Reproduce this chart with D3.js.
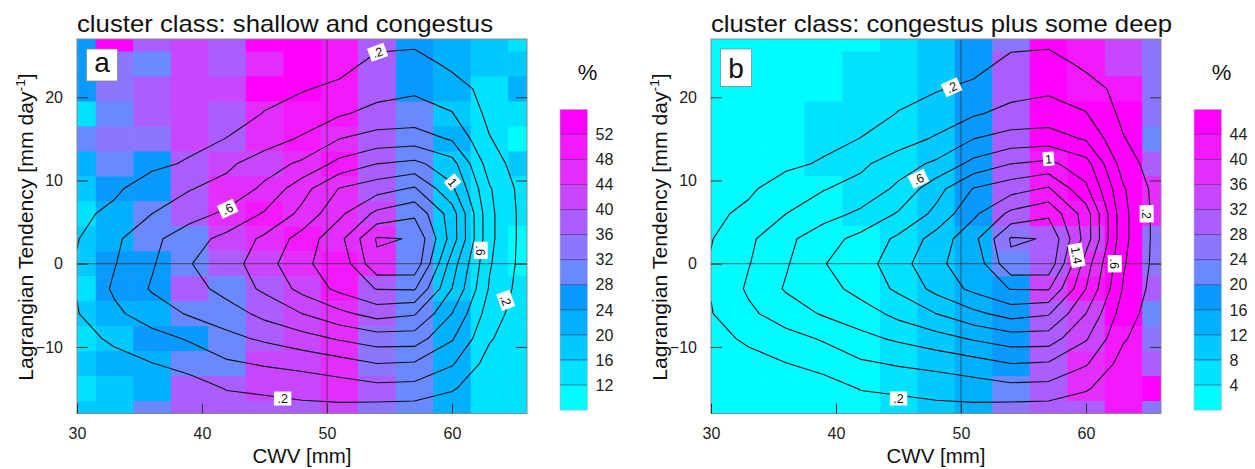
<!DOCTYPE html>
<html><head><meta charset="utf-8">
<script src="https://cdn.jsdelivr.net/npm/d3@7"></script>
<style>
body{margin:0;background:#fff}
svg{display:block}
text{font-family:"Liberation Sans",Arial,Helvetica,sans-serif}
</style></head>
<body><svg id="c" width="1255" height="469"></svg>
<script>
// ---------- data ----------
const cwv  = [30,33,36,39,42,45,48,51,54,57,60,63,66];
const tend = [27,24,21,18,15,12,9,6,3,0,-3,-6,-9,-12,-15,-18];

// joint PDF (contoured, same in both panels), rows follow tend, columns follow cwv
const density = [
 [0.02,0.03,0.04,0.05,0.07,0.09,0.11,0.13,0.155,0.13,0.08,0.04,0.02],
 [0.03,0.04,0.05,0.07,0.09,0.12,0.13,0.15,0.24,0.30,0.15,0.07,0.02],
 [0.04,0.06,0.08,0.10,0.13,0.16,0.19,0.233,0.33,0.37,0.30,0.12,0.03],
 [0.05,0.08,0.10,0.12,0.14,0.206,0.265,0.38,0.46,0.48,0.41,0.15,0.04],
 [0.07,0.10,0.13,0.15,0.204,0.30,0.427,0.60,0.68,0.70,0.58,0.21,0.05],
 [0.09,0.13,0.16,0.22,0.36,0.514,0.635,0.86,1.00,1.05,0.88,0.30,0.07],
 [0.12,0.17,0.293,0.39,0.47,0.64,0.926,1.21,1.32,1.425,1.04,0.42,0.09],
 [0.16,0.24,0.40,0.52,0.64,0.82,1.05,1.36,1.65,1.76,1.30,0.45,0.10],
 [0.19,0.36,0.55,0.72,0.86,1.04,1.28,1.54,2.02,1.99,1.31,0.45,0.10],
 [0.215,0.39,0.58,0.79,0.92,1.10,1.38,1.45,1.96,1.95,1.10,0.42,0.10],
 [0.21,0.43,0.62,0.71,0.88,1.035,1.26,1.45,1.61,1.62,1.00,0.38,0.08],
 [0.19,0.36,0.50,0.62,0.70,0.86,1.00,1.15,1.28,1.22,0.80,0.30,0.06],
 [0.12,0.24,0.33,0.42,0.55,0.63,0.72,0.82,0.90,0.90,0.62,0.22,0.04],
 [0.07,0.12,0.195,0.27,0.37,0.42,0.46,0.52,0.60,0.58,0.42,0.12,0.03],
 [0.04,0.07,0.10,0.11,0.21,0.24,0.27,0.30,0.34,0.33,0.22,0.06,0.02],
 [0.02,0.04,0.05,0.05,0.08,0.09,0.12,0.12,0.08,0.07,0.05,0.03,0.01]
];

// panel a: % shallow and congestus
const fracA = [
 [27,54,38,42,38,54,54,50,38,26,22,18,14],
 [26,34,30,42,38,46,54,50,38,26,22,18,18],
 [26,34,38,42,42,54,54,50,38,26,22,14,22],
 [14,30,38,42,38,46,50,50,38,30,18,14,14],
 [30,34,34,42,38,46,50,46,38,30,22,14,10],
 [22,30,26,38,42,42,46,50,38,30,18,14,18],
 [18,26,26,38,46,46,46,46,38,30,18,14,14],
 [14,22,30,38,46,50,46,46,42,30,18,14,14],
 [18,22,30,30,42,46,50,46,46,30,18,14,10],
 [18,26,26,30,38,42,46,50,46,30,18,14,10],
 [13,26,26,38,30,38,42,50,38,30,18,14,14],
 [18,22,22,30,30,38,42,46,38,30,22,14,14],
 [14,18,26,26,30,38,42,46,34,30,22,14,14],
 [18,22,22,30,30,42,42,46,34,30,22,14,14],
 [14,18,22,38,38,42,42,46,38,30,22,14,14],
 [18,18,30,38,38,38,38,42,34,30,22,14,14]
];

// panel b: % congestus plus some deep
const fracB = [
 [2,2,2,2,2,6,10,18,26,46,42,34,26],
 [2,2,2,2,6,6,10,18,30,46,42,34,26],
 [2,2,2,2,6,6,10,18,30,46,42,42,26],
 [2,2,2,6,6,6,10,18,30,46,46,46,26],
 [2,2,2,6,6,6,10,18,30,46,46,46,22],
 [2,2,2,6,6,6,10,18,30,42,46,46,30],
 [2,2,2,2,6,6,10,18,30,42,46,46,38],
 [2,2,2,2,6,6,10,18,30,42,42,46,38],
 [2,2,2,2,2,6,10,14,26,30,34,46,26],
 [2,2,2,2,2,6,10,14,22,30,38,46,26],
 [2,2,2,2,2,6,10,14,18,34,42,46,30],
 [2,2,2,2,2,6,10,14,18,30,34,46,22],
 [2,2,2,2,2,6,10,14,18,30,34,42,26],
 [2,2,2,2,2,6,10,14,18,30,38,42,30],
 [2,2,2,2,2,6,10,14,22,30,38,42,46],
 [2,2,2,2,2,6,10,14,26,30,30,42,26]
];

const levelsA = [12,16,20,24,28,32,36,40,44,48,52];
const levelsB = [4,8,12,16,20,24,28,32,36,40,44];
const palette = ["#00fcff","#00e2ff","#00c9ff","#00b0ff","#0a99ff","#6a88ff","#8a76ff","#aa5eff","#c846ff","#e22eff","#f418ff","#ff00ff"];
const contourLevels = [0.2,0.4,0.6,0.8,1.0,1.2,1.4,1.6,1.8,2.0];
const xTicks = [30,40,50,60];
const yTicks = [20,10,0,-10];
const titles = ["cluster class: shallow and congestus","cluster class: congestus plus some deep"];
const letters = ["a","b"];
const labelsA = [
 {t:".2",x:54.05,y:25.4,a:-20},{t:".6",x:42.05,y:6.6,a:-25},{t:"1",x:60.05,y:9.8,a:50},
 {t:".6",x:62.3,y:1.6,a:90},{t:".2",x:64.3,y:-4.4,a:70},{t:".2",x:46.45,y:-16.2,a:0}
];
const labelsB = [
 {t:".2",x:49.25,y:21.2,a:-25},{t:".6",x:46.6,y:10.2,a:-25},{t:"1",x:57.0,y:12.6,a:-5},
 {t:"1.4",x:59.25,y:1.0,a:80},{t:".6",x:62.3,y:0,a:90},{t:".2",x:64.85,y:6,a:90},{t:".2",x:45.0,y:-16.2,a:0}
];

// ---------- drawing ----------
const FONT = '"Liberation Sans",Arial,Helvetica,sans-serif';
const svg = d3.select("#c");
const panels = [
 {left:77, frac:fracA, levels:levelsA, labels:labelsA, cbx:560, boxH:32, letterBase:72, titleW:416},
 {left:711, frac:fracB, levels:levelsB, labels:labelsB, cbx:1194, boxH:37.5, letterBase:78, titleW:461}
];

panels.forEach((p, idx) => {
  const x = d3.scaleLinear().domain([30,66]).range([p.left, p.left+450]);
  const y = d3.scaleLinear().domain([-18,27]).range([413.5, 39]);
  const g = svg.append("g");
  const clipId = "clip"+idx;
  svg.append("clipPath").attr("id",clipId).append("rect")
    .attr("x",x(30)).attr("y",y(27)).attr("width",x(66)-x(30)).attr("height",y(-18)-y(27));
  const color = d3.scaleThreshold().domain(p.levels).range(palette);
  const dx = cwv[1]-cwv[0], dy = tend[0]-tend[1];

  const cells = [];
  tend.forEach((ty,j)=>cwv.forEach((cx,i)=>cells.push({cx,ty,v:p.frac[j][i]})));
  g.append("g").attr("clip-path",`url(#${clipId})`)
    .selectAll("rect").data(cells).join("rect")
    .attr("x",d=>x(d.cx-dx/2)).attr("y",d=>y(d.ty+dy/2))
    .attr("width",d=>x(d.cx+dx/2)-x(d.cx-dx/2)+0.6)
    .attr("height",d=>y(d.ty-dy/2)-y(d.ty+dy/2)+0.6)
    .attr("fill",d=>color(d.v));

  // reference lines
  g.append("line").attr("x1",x(30)).attr("x2",x(66)).attr("y1",y(0)).attr("y2",y(0))
    .attr("stroke","#333").attr("stroke-opacity",0.75).attr("stroke-width",1);
  g.append("line").attr("x1",x(50)).attr("x2",x(50)).attr("y1",y(27)).attr("y2",y(-18))
    .attr("stroke","#333").attr("stroke-opacity",0.75).attr("stroke-width",1);

  // contours
  const cont = d3.contours().size([cwv.length, tend.length]).thresholds(contourLevels)(density.flat());
  const tr = d3.geoTransform({point(px,py){ this.stream.point(x(cwv[0]+dx*(px-0.5)), y(tend[0]-dy*(py-0.5))); }});
  const path = d3.geoPath(tr);
  g.append("g").attr("clip-path",`url(#${clipId})`)
    .selectAll("path").data(cont).join("path")
    .attr("d",path).attr("fill","none").attr("stroke","#111").attr("stroke-width",1.1)
    .attr("stroke-linejoin","round");

  // contour labels
  const lg = g.append("g").selectAll("g").data(p.labels).join("g")
    .attr("transform",d=>`translate(${x(d.x)},${y(d.y)}) rotate(${d.a})`);
  lg.append("rect").attr("x",d=>-(d.t.length*6.2+5)/2).attr("y",-7)
    .attr("width",d=>d.t.length*6.2+5).attr("height",14).attr("fill","#fff");
  lg.append("text").attr("text-anchor","middle").attr("dy","0.36em")
    .attr("font-size",12.5).attr("fill","#111").text(d=>d.t);

  // frame
  g.append("rect").attr("x",x(30)).attr("y",y(27)).attr("width",x(66)-x(30)).attr("height",y(-18)-y(27))
    .attr("fill","none").attr("stroke","#8a8a8a").attr("stroke-width",1);

  // axes
  const axB = g.append("g").attr("transform",`translate(0,${y(-18)})`)
    .call(d3.axisBottom(x).tickValues(xTicks).tickSizeInner(-10).tickSizeOuter(0).tickPadding(14));
  const axL = g.append("g").attr("transform",`translate(${x(30)},0)`)
    .call(d3.axisLeft(y).tickValues(yTicks).tickSizeInner(-11).tickSizeOuter(0).tickPadding(14));
  const axR = g.append("g").attr("transform",`translate(${x(66)},0)`)
    .call(d3.axisRight(y).tickValues(yTicks).tickSizeInner(-11).tickSizeOuter(0).tickFormat(""));
  [axB,axL,axR].forEach(a=>{
    a.select(".domain").remove();
    a.attr("font-family",FONT).attr("font-size",16);
    a.selectAll("line").attr("stroke","#333");
    a.selectAll("text").attr("fill","#222");
  });

  // title
  g.append("text").attr("x",x(30)).attr("y",31.5).attr("font-size",24).attr("fill","#111")
    .attr("textLength",p.titleW).attr("lengthAdjust","spacingAndGlyphs").text(titles[idx]);
  // x label
  g.append("text").attr("x",x(48)).attr("y",463).attr("text-anchor","middle").attr("font-size",19.5).attr("fill","#111")
    .attr("textLength",99).attr("lengthAdjust","spacingAndGlyphs").text("CWV [mm]");
  // y label
  const yl = g.append("text").attr("transform",`translate(${p.left-44},227) rotate(-90) scale(1.06,1)`)
    .attr("text-anchor","middle").attr("font-size",20).attr("fill","#111");
  yl.append("tspan").text("Lagrangian Tendency [mm day");
  yl.append("tspan").attr("dy",-8).attr("font-size",13).text("-1");
  yl.append("tspan").attr("dy",8).text("]");

  // panel letter
  g.append("rect").attr("x",x(30)+9.5).attr("y",49).attr("width",31).attr("height",p.boxH)
    .attr("fill","#fff").attr("stroke","#888").attr("stroke-width",0.8);
  g.append("text").attr("x",x(30)+25).attr("y",p.letterBase).attr("text-anchor","middle")
    .attr("font-size",28).attr("fill","#111").text(letters[idx]);

  // colorbar
  const cbTop = 109.3, cbBot = 410, n = p.levels.length+1, bh = (cbBot-cbTop)/n, cbw = 27.5;
  const cb = g.append("g");
  cb.selectAll("rect").data(d3.range(n)).join("rect")
    .attr("x",p.cbx).attr("y",k=>cbBot-(k+1)*bh).attr("width",cbw).attr("height",bh+0.3)
    .attr("fill",k=>palette[k]);
  cb.selectAll("line").data(p.levels).join("line")
    .attr("x1",p.cbx).attr("x2",p.cbx+cbw)
    .attr("y1",(d,k)=>cbBot-(k+1)*bh).attr("y2",(d,k)=>cbBot-(k+1)*bh)
    .attr("stroke","#3a2a55").attr("stroke-opacity",0.7).attr("stroke-width",0.8);
  cb.append("rect").attr("x",p.cbx).attr("y",cbTop).attr("width",cbw).attr("height",cbBot-cbTop)
    .attr("fill","none").attr("stroke","#bbb").attr("stroke-width",0.6);
  cb.selectAll("text.lab").data(p.levels).join("text").attr("class","lab")
    .attr("x",p.cbx+cbw+8).attr("y",(d,k)=>cbBot-(k+1)*bh).attr("dy","0.36em")
    .attr("font-size",16).attr("fill","#222").text(d=>d);
  g.append("text").attr("x",p.cbx+cbw).attr("y",80).attr("text-anchor","middle")
    .attr("font-size",22).attr("fill","#111").text("%");
});
</script>
</body></html>
